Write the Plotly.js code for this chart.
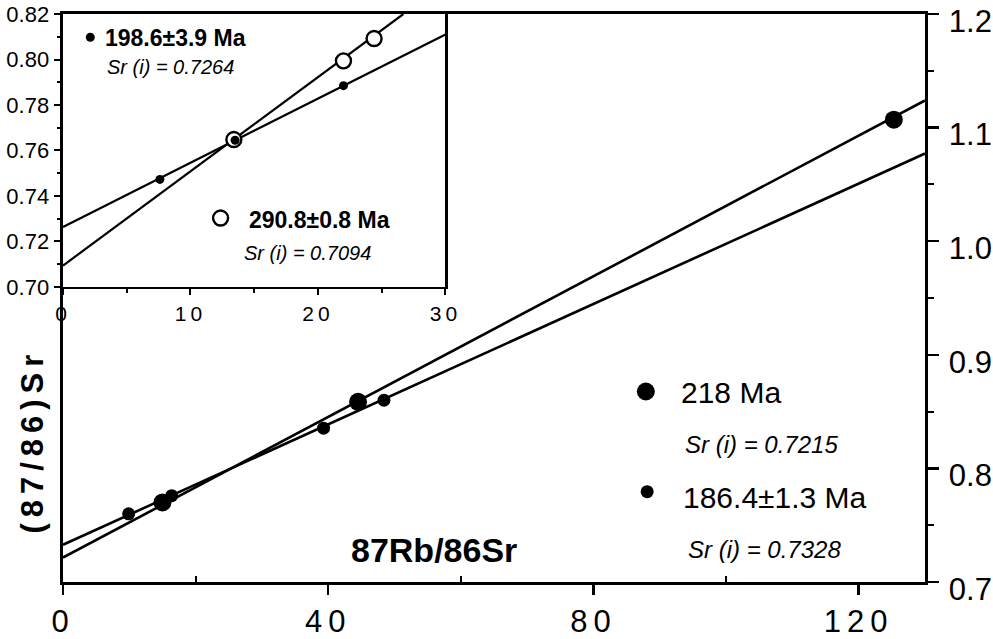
<!DOCTYPE html>
<html>
<head>
<meta charset="utf-8">
<script src="https://cdn.plot.ly/plotly-3.0.1.min.js"></script>
<style>
  html, body { margin: 0; padding: 0; background: #fff; }
  #chart { width: 993px; height: 639px; }
  .xtick text { letter-spacing: 6px; }
  .x2tick text { letter-spacing: 4px; }
  .annotation[data-index="0"] text { letter-spacing: 6px; }
</style>
</head>
<body>
<div id="chart"></div>
<script>
// ---------- main diagram data ----------
const main218X = [15.0, 44.5, 125.3];
const main218Y = [0.770, 0.8586, 1.107];
const main186X = [9.9, 16.4, 39.3, 48.4];
const main186Y = [0.760, 0.776, 0.8354, 0.860];
const iso218X = [0, 130];
const iso218Y = [0.7215, 1.1239];
const iso186X = [0, 130];
const iso186Y = [0.7328, 1.0772];

// ---------- inset data ----------
const inset198X = [7.6, 13.5, 22.0];
const inset198Y = [0.7473, 0.7645, 0.7885];
const inset290X = [13.4, 22.0, 24.4];
const inset290Y = [0.7648, 0.7994, 0.8092];
const iso198X = [0, 30];
const iso198Y = [0.7264, 0.8110];
const iso290X = [0, 26.7];
const iso290Y = [0.7094, 0.8200];

// ---------- tick labels ----------
const mainXTicks = [0, 40, 80, 120];
const mainYTicks = [0.7, 0.8, 0.9, 1.0, 1.1, 1.2];
const insetXTicks = [0, 10, 20, 30];
const insetYTicks = [0.70, 0.72, 0.74, 0.76, 0.78, 0.80, 0.82];

const FONT = 'Liberation Sans, Arial, Helvetica, sans-serif';
const BLACK = '#000';

const traces = [
  {x: iso218X, y: iso218Y, xaxis: 'x', yaxis: 'y', mode: 'lines',
   line: {color: BLACK, width: 2.6}, hoverinfo: 'skip'},
  {x: iso186X, y: iso186Y, xaxis: 'x', yaxis: 'y', mode: 'lines',
   line: {color: BLACK, width: 2.6}, hoverinfo: 'skip'},
  {x: main218X, y: main218Y, xaxis: 'x', yaxis: 'y', mode: 'markers',
   marker: {color: BLACK, size: 18, symbol: 'circle'}, name: '218 Ma'},
  {x: main186X, y: main186Y, xaxis: 'x', yaxis: 'y', mode: 'markers',
   marker: {color: BLACK, size: 13, symbol: 'circle'}, name: '186.4±1.3 Ma'},
  {x: iso198X, y: iso198Y, xaxis: 'x2', yaxis: 'y2', mode: 'lines',
   line: {color: BLACK, width: 2.2}, hoverinfo: 'skip'},
  {x: iso290X, y: iso290Y, xaxis: 'x2', yaxis: 'y2', mode: 'lines',
   line: {color: BLACK, width: 2.2}, hoverinfo: 'skip'},
  {x: inset290X, y: inset290Y, xaxis: 'x2', yaxis: 'y2', mode: 'markers',
   marker: {color: '#fff', size: 15, symbol: 'circle', line: {color: BLACK, width: 2.4}},
   name: '290.8±0.8 Ma'},
  {x: inset198X, y: inset198Y, xaxis: 'x2', yaxis: 'y2', mode: 'markers',
   marker: {color: BLACK, size: 9, symbol: 'circle'}, name: '198.6±3.9 Ma'}
];

const axisCommon = {
  showgrid: false, zeroline: false, showline: true, linecolor: BLACK,
  ticks: 'outside', tickcolor: BLACK, fixedrange: true, ticklabeloverflow: 'allow'
};

const layout = {
  width: 993, height: 639,
  margin: {l: 63, r: 68, t: 14, b: 57, pad: 0},
  paper_bgcolor: '#fff', plot_bgcolor: '#fff',
  showlegend: false,
  font: {family: FONT, color: BLACK},
  xaxis: Object.assign({}, axisCommon, {
    domain: [0, 1], range: [0, 130], anchor: 'y',
    tickvals: mainXTicks, ticktext: mainXTicks.map(String),
    ticklen: 10, tickwidth: 2.5, linewidth: 2.6, mirror: true,
    minor: {tickvals: [20, 60, 100], ticks: 'inside', ticklen: 6, tickwidth: 2, tickcolor: BLACK},
    tickfont: {family: FONT, size: 31, color: BLACK}
  }),
  yaxis: Object.assign({}, axisCommon, {
    domain: [0, 1], range: [0.7, 1.2], anchor: 'x', side: 'right',
    tickvals: mainYTicks, ticktext: mainYTicks.map(v => v.toFixed(1)),
    ticklen: 11, tickwidth: 2.5, linewidth: 2.6, mirror: true,
    ticklabelstandoff: 4, ticklabelshift: 7,
    minor: {tickvals: [0.75, 0.85, 0.95, 1.05, 1.15], ticks: 'outside', ticklen: 6, tickwidth: 2, tickcolor: BLACK},
    tickfont: {family: FONT, size: 31, color: BLACK}
  }),
  xaxis2: Object.assign({}, axisCommon, {
    domain: [0, 0.4437], range: [0, 30], anchor: 'y2',
    tickvals: insetXTicks, ticktext: insetXTicks.map(String),
    ticklen: 6, tickwidth: 2, linewidth: 2.4, mirror: true,
    minor: {tickvals: [5, 15, 25], ticks: 'outside', ticklen: 4, tickwidth: 2, tickcolor: BLACK},
    tickfont: {family: FONT, size: 21, color: BLACK}
  }),
  yaxis2: Object.assign({}, axisCommon, {
    domain: [0.5194, 1], range: [0.70, 0.82], anchor: 'x2',
    tickvals: insetYTicks, ticktext: insetYTicks.map(v => v.toFixed(2)),
    ticklen: 7, tickwidth: 2, linewidth: 2.4, mirror: true,
    minor: {tickvals: [0.71, 0.73, 0.75, 0.77, 0.79, 0.81], ticks: 'outside', ticklen: 4, tickwidth: 2, tickcolor: BLACK},
    tickfont: {family: FONT, size: 22, color: BLACK}
  }),
  shapes: [
    // main legend markers
    {type: 'circle', xref: 'x', yref: 'y', xsizemode: 'pixel', ysizemode: 'pixel',
     xanchor: 87.9, yanchor: 0.8677, x0: -9, x1: 9, y0: -9, y1: 9,
     fillcolor: BLACK, line: {width: 0}},
    {type: 'circle', xref: 'x', yref: 'y', xsizemode: 'pixel', ysizemode: 'pixel',
     xanchor: 88.1, yanchor: 0.7795, x0: -6.5, x1: 6.5, y0: -6.5, y1: 6.5,
     fillcolor: BLACK, line: {width: 0}},
    // inset legend markers
    {type: 'circle', xref: 'x2', yref: 'y2', xsizemode: 'pixel', ysizemode: 'pixel',
     xanchor: 2.14, yanchor: 0.8098, x0: -4.5, x1: 4.5, y0: -4.5, y1: 4.5,
     fillcolor: BLACK, line: {width: 0}},
    {type: 'circle', xref: 'x2', yref: 'y2', xsizemode: 'pixel', ysizemode: 'pixel',
     xanchor: 12.36, yanchor: 0.7303, x0: -7.5, x1: 7.5, y0: -7.5, y1: 7.5,
     fillcolor: '#fff', line: {width: 2.4, color: BLACK}}
  ],
  annotations: [
    {text: '<b>(87/86)Sr</b>', xref: 'paper', yref: 'paper', x: -0.0354, y: 0.248,
     xanchor: 'center', yanchor: 'middle', textangle: -90, showarrow: false,
     font: {family: FONT, size: 31, color: BLACK}},
    {text: '<b>87Rb/86Sr</b>', xref: 'x', yref: 'y', x: 56.0, y: 0.7286,
     xanchor: 'center', yanchor: 'middle', showarrow: false,
     font: {family: FONT, size: 34, color: BLACK}},
    {text: '218 Ma', xref: 'x', yref: 'y', x: 92.9, y: 0.8669,
     xanchor: 'left', yanchor: 'middle', showarrow: false,
     font: {family: FONT, size: 30, color: BLACK}},
    {text: '<i>Sr (i) = 0.7215</i>', xref: 'x', yref: 'y', x: 93.5, y: 0.8214,
     xanchor: 'left', yanchor: 'middle', showarrow: false,
     font: {family: FONT, size: 24, color: BLACK}},
    {text: '186.4±1.3 Ma', xref: 'x', yref: 'y', x: 93.2, y: 0.7748,
     xanchor: 'left', yanchor: 'middle', showarrow: false,
     font: {family: FONT, size: 30, color: BLACK}},
    {text: '<i>Sr (i) = 0.7328</i>', xref: 'x', yref: 'y', x: 93.9, y: 0.7289,
     xanchor: 'left', yanchor: 'middle', showarrow: false,
     font: {family: FONT, size: 24, color: BLACK}},
    {text: '<b>198.6±3.9 Ma</b>', xref: 'x2', yref: 'y2', x: 3.16, y: 0.8096,
     xanchor: 'left', yanchor: 'middle', showarrow: false,
     font: {family: FONT, size: 23, color: BLACK}},
    {text: '<i>Sr (i) = 0.7264</i>', xref: 'x2', yref: 'y2', x: 3.32, y: 0.7967,
     xanchor: 'left', yanchor: 'middle', showarrow: false,
     font: {family: FONT, size: 20, color: BLACK}},
    {text: '<b>290.8±0.8 Ma</b>', xref: 'x2', yref: 'y2', x: 14.47, y: 0.7295,
     xanchor: 'left', yanchor: 'middle', showarrow: false,
     font: {family: FONT, size: 23, color: BLACK}},
    {text: '<i>Sr (i) = 0.7094</i>', xref: 'x2', yref: 'y2', x: 14.07, y: 0.7150,
     xanchor: 'left', yanchor: 'middle', showarrow: false,
     font: {family: FONT, size: 20, color: BLACK}}
  ]
};

Plotly.newPlot('chart', traces, layout, {displayModeBar: false, staticPlot: true});
</script>
</body>
</html>
